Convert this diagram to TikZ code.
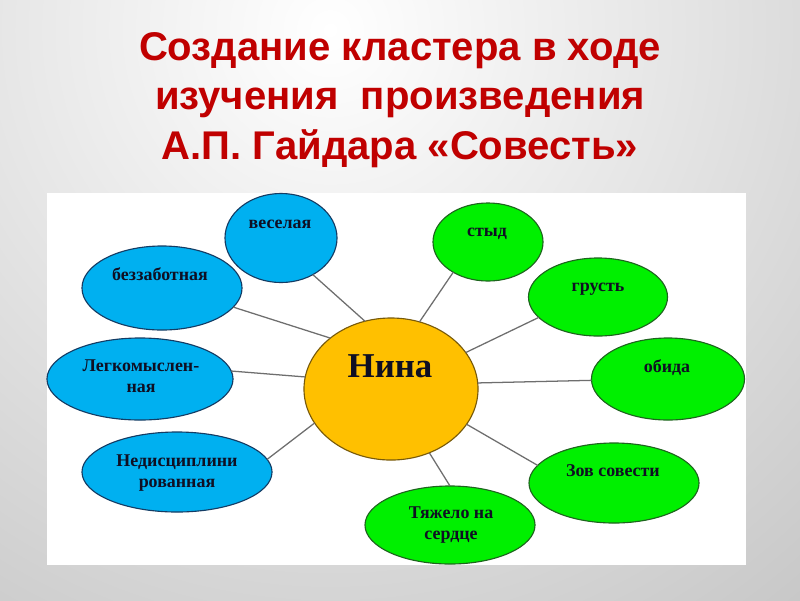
\documentclass[tikz,border=0pt]{standalone}
\usepackage{fontspec}
\setmainfont{Liberation Serif}
\newfontfamily\titlefont{Liberation Sans}
\usetikzlibrary{shapes.geometric}
\definecolor{titlered}{RGB}{192,0,0}
\definecolor{bggray}{RGB}{158,158,158}
\definecolor{ovalblue}{RGB}{0,176,240}
\definecolor{ovalblueedge}{RGB}{20,60,100}
\definecolor{ovalgreen}{RGB}{0,240,0}
\definecolor{ovalgreenedge}{RGB}{30,100,30}
\definecolor{ovalorange}{RGB}{255,192,0}
\definecolor{ovalorangeedge}{RGB}{120,90,10}
\definecolor{ovalink}{RGB}{15,15,35}
\definecolor{linkgray}{RGB}{110,110,110}

\begin{document}
\begin{tikzpicture}[x=0.025cm,y=-0.025cm,
  oval/.style={ellipse,draw,line width=.8pt,inner sep=0pt,outer sep=0pt},
  blueoval/.style={oval,fill=ovalblue,draw=ovalblueedge},
  greenoval/.style={oval,fill=ovalgreen,draw=ovalgreenedge},
  ovaltext/.style={font=\bfseries\fontsize{12.75}{14.5}\selectfont,text=ovalink,align=center,anchor=base,inner sep=0pt},
  link/.style={draw=linkgray,line width=.9pt}]
\useasboundingbox (0,0) rectangle (800,600);
% background
\fill[bggray] (0,0) rectangle (800,600);
\begin{scope}
\clip (0,0) rectangle (800,600);
\shade[inner color=white,outer color=bggray] (330,30) circle (32.5cm);
\end{scope}
\node[font=\titlefont\bfseries\fontsize{28.5}{35}\selectfont,text=titlered,align=center] (title) at (400,100)
  {Создание кластера в ходе\\изучения\ \ произведения\\А.П. Гайдара «Совесть»};
\fill[white] (47,193) rectangle (746,565);
% center
\node[oval,fill=ovalorange,draw=ovalorangeedge,minimum width=4.35cm,minimum height=3.55cm] (nina) at (391,389) {};
% left side
\node[blueoval,minimum width=2.8cm,minimum height=2.225cm] (vesel) at (281,238) {};
\node[blueoval,minimum width=4cm,minimum height=2.1cm] (bezz) at (162,288) {};
\node[blueoval,minimum width=4.65cm,minimum height=2.05cm] (legk) at (140,379) {};
\node[blueoval,minimum width=4.75cm,minimum height=2cm] (nedis) at (177,472) {};
% right side
\node[greenoval,minimum width=2.75cm,minimum height=1.95cm] (styd) at (488,242) {};
\node[greenoval,minimum width=3.475cm,minimum height=1.95cm] (grust) at (598,297) {};
\node[greenoval,minimum width=3.825cm,minimum height=2.05cm] (obida) at (668,379) {};
\node[greenoval,minimum width=4.25cm,minimum height=2cm] (zov) at (614,483) {};
\node[greenoval,minimum width=4.25cm,minimum height=1.95cm] (tyazh) at (450,525) {};
% links
\draw[link] (vesel.-49) -- (nina.111);
\draw[link] (bezz.-15) -- (nina.140);
\draw[link] (legk.5) -- (nina.172);
\draw[link] (nedis.8) -- (nina.204);
\draw[link] (styd.221) -- (nina.67);
\draw[link] (grust.199) -- (nina.26);
\draw[link] (obida.181) -- (nina.4);
\draw[link] (zov.167) -- (nina.-25);
\draw[link] (tyazh.90) -- (nina.-59);
% texts
\node[ovaltext,font=\bfseries\fontsize{24.8}{28}\selectfont] (nina-t) at (390,377) {Нина};
\node[ovaltext] (vesel-t) at (280,228) {веселая};
\node[ovaltext] (bezz-t) at (160,280) {беззаботная};
\node[ovaltext] (legk-t) at (141,392) {Легкомыслен-\\ная};
\node[ovaltext] (nedis-t) at (177,487) {Недисциплини\\рованная};
\node[ovaltext] (styd-t) at (487,236) {стыд};
\node[ovaltext] (grust-t) at (598,291) {грусть};
\node[ovaltext] (obida-t) at (667,372) {обида};
\node[ovaltext] (zov-t) at (613,476) {Зов совести};
\node[ovaltext] (tyazh-t) at (451,539) {Тяжело на\\сердце};
\end{tikzpicture}
\end{document}
